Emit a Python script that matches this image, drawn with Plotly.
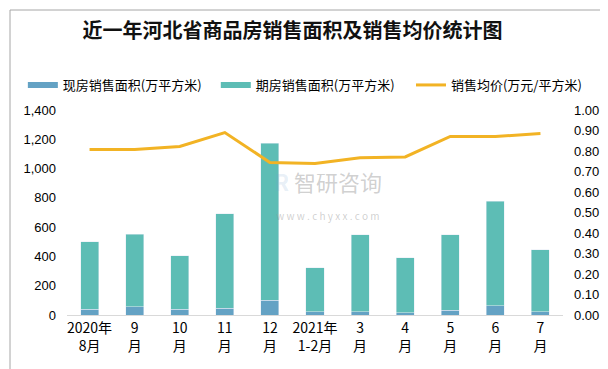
import plotly.graph_objects as go

categories = ["2020年<br>8月", "9<br>月", "10<br>月", "11<br>月", "12<br>月",
              "2021年<br>1-2月", "3<br>月", "4<br>月", "5<br>月", "6<br>月", "7<br>月"]
existing_area = [38, 56, 38, 45, 100, 22, 22, 16, 31, 63, 22]          # 现房销售面积
totals = [499, 553, 404, 690, 1173, 322, 547, 390, 547, 778, 444]
forward_area = [t - e for t, e in zip(totals, existing_area)]          # 期房销售面积
avg_price = [0.807, 0.807, 0.822, 0.890, 0.744, 0.739, 0.767, 0.771, 0.871, 0.871, 0.885]

left_ticks = [0, 200, 400, 600, 800, 1000, 1200, 1400]
right_ticks = [i / 10 for i in range(11)]

C_BLUE = "#64A2C4"
C_TEAL = "#5DBDB5"
C_ORANGE = "#F2B324"
FONT = "Noto Sans CJK SC"

fig = go.Figure()
fig.add_trace(go.Bar(x=categories, y=existing_area, name="现房销售面积(万平方米)",
                     marker_color=C_BLUE, width=0.4, showlegend=False))
fig.add_trace(go.Bar(x=categories, y=forward_area, name="期房销售面积(万平方米)",
                     marker_color=C_TEAL, width=0.4, showlegend=False))
fig.add_trace(go.Scatter(x=categories, y=avg_price, name="销售均价(万元/平方米)",
                         mode="lines", line=dict(color=C_ORANGE, width=3),
                         yaxis="y2", showlegend=False))

# legend entries
fig.add_trace(go.Scatter(x=[None], y=[None], mode="lines", name="现房销售面积(万平方米)",
                         line=dict(color=C_BLUE, width=6), legend="legend"))
fig.add_trace(go.Scatter(x=[None], y=[None], mode="lines", name="期房销售面积(万平方米)",
                         line=dict(color=C_TEAL, width=6), legend="legend2"))
fig.add_trace(go.Scatter(x=[None], y=[None], mode="lines", name="销售均价(万元/平方米)",
                         line=dict(color=C_ORANGE, width=3), legend="legend3"))

legend_common = dict(orientation="h", yanchor="middle", y=1.122, xanchor="left",
                     font=dict(family=FONT, size=13, color="#000000"),
                     bgcolor="rgba(0,0,0,0)", borderwidth=0)

watermark = ("<span style='color:rgba(120,160,210,0.4)'><b>R</b></span> 智研咨询<br>"
             "<span style='font-size:10px'>w w w . c h y x x . c o m</span>")

fig.update_layout(
    width=608, height=369,
    margin=dict(l=59, r=53, t=102, b=62),
    paper_bgcolor="white", plot_bgcolor="white",
    barmode="stack",
    title=dict(text="<b>近一年河北省商品房销售面积及销售均价统计图</b>",
               x=284.5 / 608, xanchor="center", y=1 - 23 / 369, yanchor="middle",
               font=dict(family=FONT, size=20, color="#111111")),
    legend=dict(x=-0.089, **legend_common),
    legend2=dict(x=0.300, **legend_common),
    legend3=dict(x=0.6935, **legend_common),
    xaxis=dict(showline=True, linecolor="#D9D9D9", linewidth=1, ticks="",
               showgrid=False, tickfont=dict(family=FONT, size=14, color="#000000"),
               range=[-0.5, 10.5]),
    yaxis=dict(range=[0, 1400], tickvals=left_ticks, tickformat=",", showgrid=False,
               zeroline=False, showline=False,
               tickfont=dict(family="Liberation Sans, Arial", size=13, color="#000000"),
               ticklabelstandoff=10),
    yaxis2=dict(range=[0, 1], tickvals=right_ticks, tickformat=".2f", overlaying="y",
                side="right", showgrid=False, zeroline=False, showline=False,
                tickfont=dict(family="Liberation Sans, Arial", size=13, color="#000000"),
                ticklabelstandoff=10),
    shapes=[
        dict(type="rect", xref="paper", yref="paper",
             x0=(2 - 59) / 496, x1=(605 - 59) / 496,
             y0=(307 - 366) / 205, y1=(307 - 2) / 205,
             line=dict(color="#A6A6A6", width=1), fillcolor="rgba(0,0,0,0)", layer="below"),
    ],
    annotations=[
        dict(text=watermark, xref="paper", yref="paper", x=(320 - 59) / 496,
             y=(307 - 186) / 205, showarrow=False, align="center",
             font=dict(family=FONT, size=22, color="rgba(150,150,150,0.45)")),
    ],
)

fig.write_html("out.html")
